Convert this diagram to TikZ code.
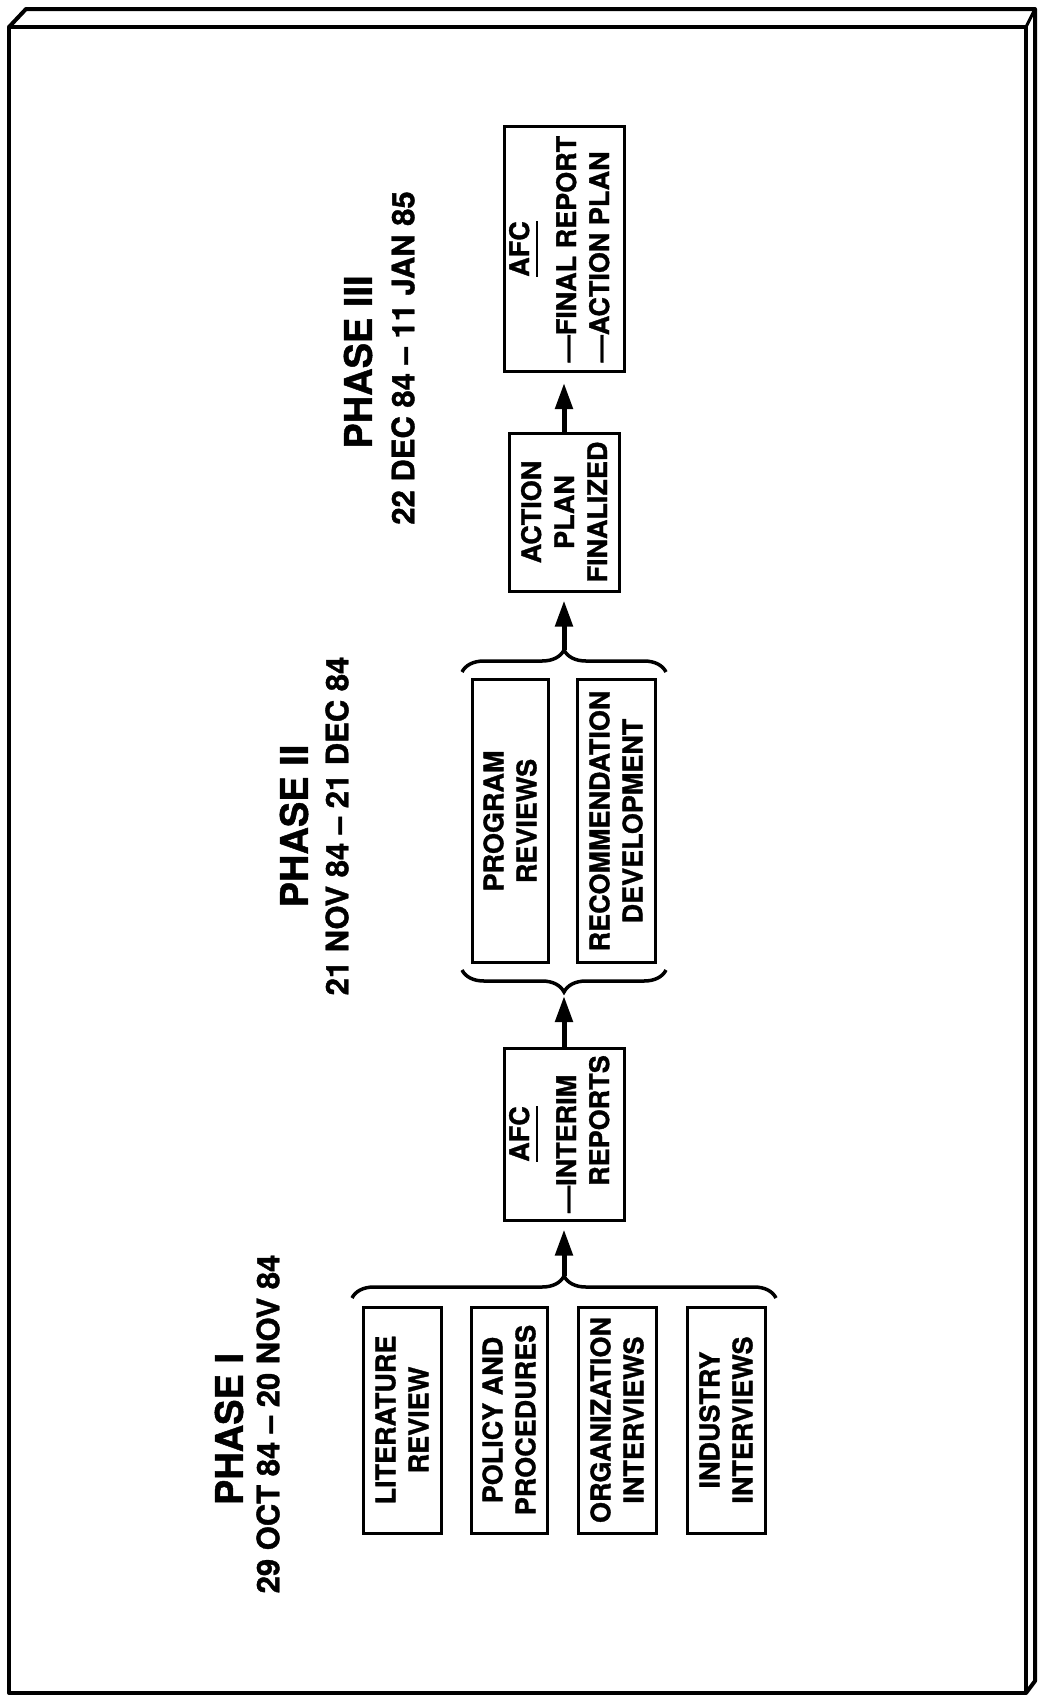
\documentclass[tikz,border=0pt]{standalone}
\usepackage{fontspec}
\setmainfont{TeX Gyre Heros}[BoldFeatures={FakeBold=1.2}]
\usetikzlibrary{arrows.meta, decorations.pathreplacing}
\newsavebox\ulsave
\newcommand{\afcul}[1]{\sbox\ulsave{#1}\rlap{\rule[-9pt]{\wd\ulsave}{2.5pt}}\usebox\ulsave}

\begin{document}
\begin{tikzpicture}[x=1pt, y=-1pt,
    task/.style={draw, line width=3pt, rotate=90, align=center, inner sep=0pt,
                 font=\fontsize{27}{33}\selectfont\bfseries},
    phase/.style={rotate=90, inner sep=0pt, font=\fontsize{38}{40}\selectfont\bfseries},
    dates/.style={rotate=90, inner sep=0pt, font=\fontsize{31}{33}\selectfont\bfseries},
    grp/.style={decorate, decoration={brace, amplitude=22pt}, line width=3.5pt},
    arr/.style={-{Triangle[length=26pt, width=17pt]}, line width=5pt}]
  \useasboundingbox (0,0) rectangle (1037,1698);
  % frame
  \draw[line width=4pt, line join=round] (9,27) rectangle (1026,1693);
  \draw[line width=4pt, line join=round] (9,27) -- (26,9) -- (1035,9) -- (1035,1681) -- (1026,1693);
  \draw[line width=3pt] (1026,27) -- (1035,9);

  % phase headings
  \node[phase] (ph1) at (229,1429) {PHASE I};
  \node[dates] (dt1) at (268,1424) {29 OCT 84 -- 20 NOV 84};
  \node[phase] (ph2) at (294,826) {PHASE II};
  \node[dates] (dt2) at (337,826) {21 NOV 84 -- 21 DEC 84};
  \node[phase] (ph3) at (358,362) {PHASE III};
  \node[dates] (dt3) at (403,358) {22 DEC 84 -- 11 JAN 85};

  % phase I
  \node[task, minimum width=226pt, minimum height=78pt] (lit) at (402,1420) {LITERATURE\\REVIEW};
  \node[task, minimum width=226pt, minimum height=76pt] (pol) at (509,1420) {POLICY AND\\PROCEDURES};
  \node[task, minimum width=226pt, minimum height=78pt] (org) at (617,1420) {ORGANIZATION\\INTERVIEWS};
  \node[task, minimum width=226pt, minimum height=78pt] (ind) at (726,1420) {INDUSTRY\\INTERVIEWS};
  \node[task, minimum width=172pt, minimum height=120pt] (interim) at (564,1134)
    {\afcul{AFC}\\[14pt]\begin{tabular}[t]{@{}l@{}}---INTERIM\\\hphantom{---}REPORTS\end{tabular}};

  % phase II
  \node[task, minimum width=283pt, minimum height=76pt] (prog) at (510,821) {PROGRAM\\REVIEWS};
  \node[task, minimum width=283pt, minimum height=78pt] (rec) at (616,821) {RECOMMENDATION\\DEVELOPMENT};

  % phase III
  \node[task, minimum width=158pt, minimum height=110pt] (plan) at (564,512) {ACTION\\PLAN\\FINALIZED};
  \node[task, minimum width=245pt, minimum height=120pt] (report) at (564,249)
    {\afcul{AFC}\\[14pt]\begin{tabular}[t]{@{}l@{}}---FINAL REPORT\\---ACTION PLAN\end{tabular}};

  % braces
  \draw[grp] (352,1298) -- (776,1298);
  \draw[grp] (666,970) -- (462,970);
  \draw[grp] (462,672) -- (666,672);
  \coordinate (b1) at (564,1276);
  \coordinate (b2) at (564,992);
  \coordinate (b3) at (564,650);

  % flow
  \draw[arr, shorten >=8pt] (b1) -- (interim);
  \draw[arr, shorten >=4pt] (interim) -- (b2);
  \draw[arr, shorten >=8pt] (b3) -- (plan);
  \draw[arr, shorten >=10pt] (plan) -- (report);
\end{tikzpicture}
\end{document}
